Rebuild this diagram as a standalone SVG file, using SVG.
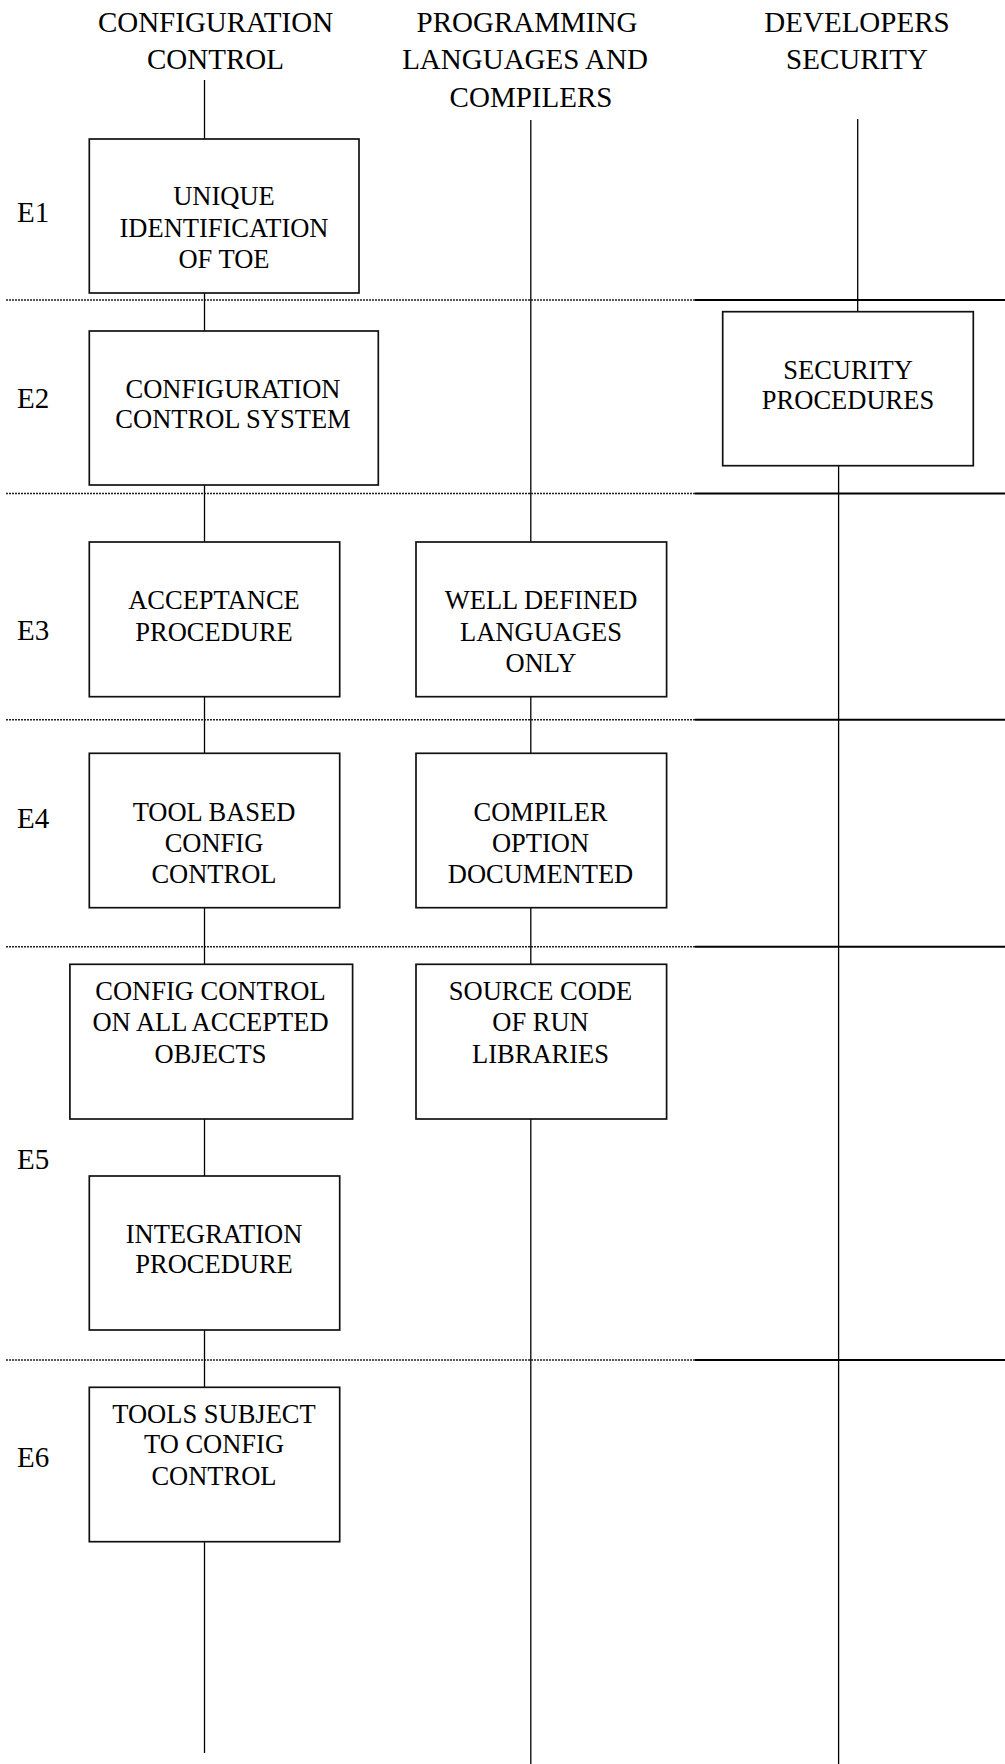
<svg xmlns="http://www.w3.org/2000/svg" width="1005" height="1764" viewBox="0 0 1005 1764">
<style>
text{font-family:'Liberation Serif','Times New Roman',serif;fill:#000;}
.hd{font-size:29px;text-anchor:middle;}
.lb{font-size:29px;}
.bx{font-size:26.5px;text-anchor:middle;}
.box{fill:#fff;stroke:#111;stroke-width:1.7;}
.v{stroke:#000;stroke-width:1.3;fill:none;}
.dash{stroke:#222;stroke-width:1.5;stroke-dasharray:2 1;fill:none;}
.sol{stroke:#000;stroke-width:2;fill:none;}
</style>
<rect width="1005" height="1764" fill="#fff"/>
<g id="headers">
<text class="hd" x="215.5" y="31.7">CONFIGURATION</text>
<text class="hd" x="215.5" y="69.3">CONTROL</text>
<text class="hd" x="527" y="31.7">PROGRAMMING</text>
<text class="hd" x="525" y="69.3">LANGUAGES AND</text>
<text class="hd" x="531" y="107.3">COMPILERS</text>
<text class="hd" x="857" y="31.7">DEVELOPERS</text>
<text class="hd" x="857" y="69.3">SECURITY</text>
</g>
<g id="levels">
<text class="lb" x="17" y="221.7">E1</text>
<text class="lb" x="17" y="408.3">E2</text>
<text class="lb" x="17" y="640">E3</text>
<text class="lb" x="17" y="828.3">E4</text>
<text class="lb" x="17" y="1169.3">E5</text>
<text class="lb" x="17" y="1467.3">E6</text>
</g>
<g id="separators">
<line class="dash" x1="6" y1="300" x2="695" y2="300"/><line class="sol" x1="695" y1="300" x2="1005" y2="300"/>
<line class="dash" x1="6" y1="493.5" x2="695" y2="493.5"/><line class="sol" x1="695" y1="493.5" x2="1005" y2="493.5"/>
<line class="dash" x1="6" y1="719.7" x2="695" y2="719.7"/><line class="sol" x1="695" y1="719.7" x2="1005" y2="719.7"/>
<line class="dash" x1="6" y1="946.7" x2="695" y2="946.7"/><line class="sol" x1="695" y1="946.7" x2="1005" y2="946.7"/>
<line class="dash" x1="6" y1="1360" x2="695" y2="1360"/><line class="sol" x1="695" y1="1360" x2="1005" y2="1360"/>
</g>
<g id="connectors">
<line class="v" x1="204.5" y1="80" x2="204.5" y2="139"/>
<line class="v" x1="204.5" y1="293" x2="204.5" y2="331"/>
<line class="v" x1="204.5" y1="485" x2="204.5" y2="542"/>
<line class="v" x1="204.5" y1="697" x2="204.5" y2="753"/>
<line class="v" x1="204.5" y1="908" x2="204.5" y2="964"/>
<line class="v" x1="204.5" y1="1119" x2="204.5" y2="1176"/>
<line class="v" x1="204.5" y1="1330" x2="204.5" y2="1387"/>
<line class="v" x1="204.5" y1="1542" x2="204.5" y2="1753"/>
<line class="v" x1="530.8" y1="120" x2="530.8" y2="542"/>
<line class="v" x1="530.8" y1="697" x2="530.8" y2="753"/>
<line class="v" x1="530.8" y1="908" x2="530.8" y2="964"/>
<line class="v" x1="530.8" y1="1119" x2="530.8" y2="1764"/>
<line class="v" x1="857.7" y1="119" x2="857.7" y2="311.7"/>
<line class="v" x1="838.6" y1="465.7" x2="838.6" y2="1764"/>
</g>
<g id="n-unique">
<rect class="box" x="89.3" y="139" width="269.7" height="154"/>
<text class="bx" x="224" y="205">UNIQUE</text>
<text class="bx" x="224" y="236.7">IDENTIFICATION</text>
<text class="bx" x="224" y="268.3">OF TOE</text>
</g>
<g id="n-ccs">
<rect class="box" x="89.3" y="331" width="289" height="154"/>
<text class="bx" x="233" y="398.3">CONFIGURATION</text>
<text class="bx" x="233" y="428.3">CONTROL SYSTEM</text>
</g>
<g id="n-secproc">
<rect class="box" x="722.7" y="311.7" width="250.6" height="154"/>
<text class="bx" x="848" y="379.3">SECURITY</text>
<text class="bx" x="848" y="409.3">PROCEDURES</text>
</g>
<g id="n-accept">
<rect class="box" x="89.3" y="542" width="250.4" height="154.7"/>
<text class="bx" x="214" y="609.3">ACCEPTANCE</text>
<text class="bx" x="214" y="641">PROCEDURE</text>
</g>
<g id="n-welldef">
<rect class="box" x="416" y="542" width="250.6" height="154.7"/>
<text class="bx" x="541" y="609.3">WELL DEFINED</text>
<text class="bx" x="541" y="641">LANGUAGES</text>
<text class="bx" x="541" y="671.7">ONLY</text>
</g>
<g id="n-toolbased">
<rect class="box" x="89.3" y="753.3" width="250.4" height="154.4"/>
<text class="bx" x="214" y="820.7">TOOL BASED</text>
<text class="bx" x="214" y="851.7">CONFIG</text>
<text class="bx" x="214" y="882.7">CONTROL</text>
</g>
<g id="n-compiler">
<rect class="box" x="416" y="753.3" width="250.6" height="154.4"/>
<text class="bx" x="540.5" y="820.7">COMPILER</text>
<text class="bx" x="540.5" y="851.7">OPTION</text>
<text class="bx" x="540.5" y="882.7">DOCUMENTED</text>
</g>
<g id="n-ccall">
<rect class="box" x="69.9" y="964.3" width="282.7" height="154.7"/>
<text class="bx" x="210.5" y="1000">CONFIG CONTROL</text>
<text class="bx" x="210.5" y="1031">ON ALL ACCEPTED</text>
<text class="bx" x="210.5" y="1062.7">OBJECTS</text>
</g>
<g id="n-source">
<rect class="box" x="416" y="964.3" width="250.6" height="154.7"/>
<text class="bx" x="540.5" y="1000">SOURCE CODE</text>
<text class="bx" x="540.5" y="1031">OF RUN</text>
<text class="bx" x="540.5" y="1062.7">LIBRARIES</text>
</g>
<g id="n-integration">
<rect class="box" x="89.3" y="1176" width="250.4" height="154"/>
<text class="bx" x="214" y="1242.7">INTEGRATION</text>
<text class="bx" x="214" y="1273.3">PROCEDURE</text>
</g>
<g id="n-tools">
<rect class="box" x="89.3" y="1387.3" width="250.4" height="154.4"/>
<text class="bx" x="214" y="1422.7">TOOLS SUBJECT</text>
<text class="bx" x="214" y="1453.3">TO CONFIG</text>
<text class="bx" x="214" y="1484.7">CONTROL</text>
</g>
</svg>
